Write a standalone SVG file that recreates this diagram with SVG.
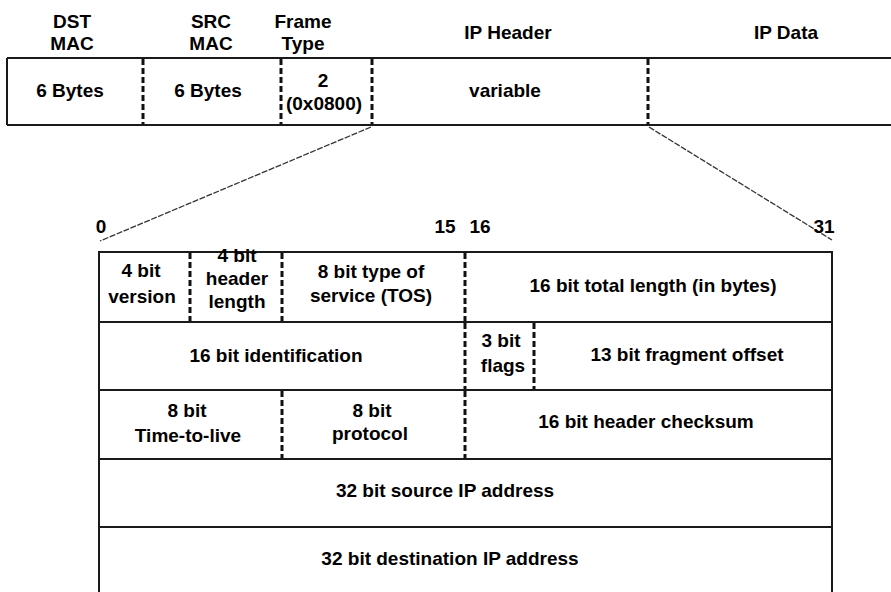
<svg xmlns="http://www.w3.org/2000/svg" width="891" height="592" viewBox="0 0 891 592">
<style>
text{font-family:"Liberation Sans",Arial,sans-serif;font-weight:bold;font-size:19px;fill:#000;text-anchor:middle}
.solid{stroke:#1a1a1a;stroke-width:2;fill:none}
.dash{stroke:#111;stroke-width:3;stroke-dasharray:6 3;fill:none}
.conn{stroke:#333;stroke-width:1.3;stroke-dasharray:6 1.5;fill:none}
</style>
<rect width="891" height="592" fill="#fff"/>
<g id="ethernet-frame">
<path class="solid" d="M7 58H891M7 125H891M7 58V125"/>
<path class="dash" d="M143 59V124M281 59V124M372 59V124M648 59V124"/>
</g>
<g id="dst-mac"><text x="72" y="28">DST</text><text x="72" y="50">MAC</text><text x="70" y="97">6 Bytes</text></g>
<g id="src-mac"><text x="211" y="28">SRC</text><text x="211" y="50">MAC</text><text x="208" y="97">6 Bytes</text></g>
<g id="frame-type"><text x="303" y="28">Frame</text><text x="303" y="50">Type</text><text x="323" y="87">2</text><text x="324" y="110">(0x0800)</text></g>
<g id="ip-header"><text x="508" y="39">IP Header</text><text x="505" y="97">variable</text></g>
<g id="ip-data"><text x="786" y="39">IP Data</text></g>
<g id="connectors">
<line class="conn" x1="371" y1="127" x2="100" y2="241"/>
<line class="conn" x1="649" y1="127" x2="832" y2="240"/>
</g>
<g id="bit-scale"><text x="101" y="233">0</text><text x="445" y="233">15</text><text x="480" y="233">16</text><text x="824" y="233">31</text></g>
<g id="ip-header-table">
<path class="solid" d="M99 252H833M99 322H833M99 390H833M99 459H833M99 527H833M99 251V592M832 251V592"/>
</g>
<g id="version"><text x="141" y="277">4 bit</text><text x="142" y="303">version</text></g>
<g id="header-length"><path class="dash" d="M190 253V321"/><text x="237" y="262">4 bit</text><text x="237" y="285">header</text><text x="237" y="308">length</text></g>
<g id="tos"><path class="dash" d="M282 253V321"/><text x="371" y="278">8 bit type of</text><text x="371" y="302">service (TOS)</text></g>
<g id="total-length"><path class="dash" d="M465 253V321"/><text x="653" y="292">16 bit total length (in bytes)</text></g>
<g id="identification"><text x="276" y="362">16 bit identification</text></g>
<g id="flags"><path class="dash" d="M465 323V389M534 323V389"/><text x="501" y="347">3 bit</text><text x="503" y="372">flags</text></g>
<g id="fragment-offset"><text x="687" y="361">13 bit fragment offset</text></g>
<g id="ttl"><text x="187" y="417">8 bit</text><text x="188" y="442">Time-to-live</text></g>
<g id="protocol"><path class="dash" d="M282 391V458M465 391V458"/><text x="372" y="417">8 bit</text><text x="370" y="440">protocol</text></g>
<g id="checksum"><text x="646" y="428">16 bit header checksum</text></g>
<g id="source-ip"><text x="445" y="497">32 bit source IP address</text></g>
<g id="destination-ip"><text x="450" y="565">32 bit destination IP address</text></g>
</svg>
